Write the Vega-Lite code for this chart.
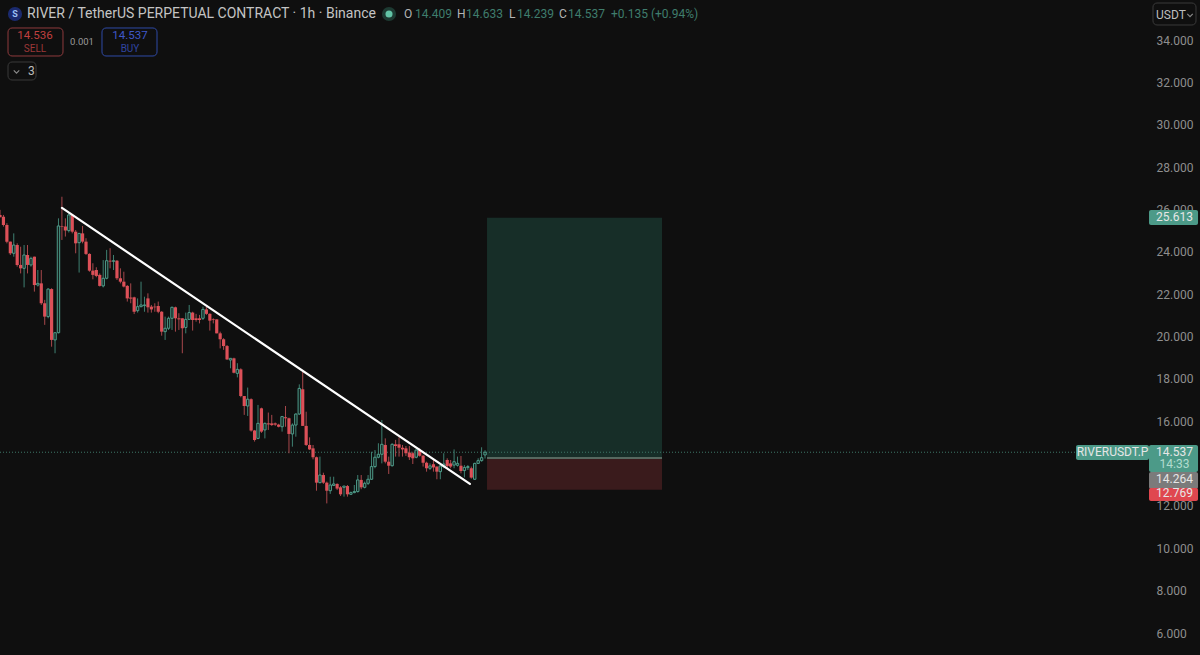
{"$schema":"https://vega.github.io/schema/vega-lite/v6.json","width":1152,"height":655,"autosize":{"type":"none"},"padding":{"left":0,"top":0,"right":48,"bottom":0},"background":"#0f0f0f","view":{"stroke":null},
"config":{"text":{"font":"Roboto"},"axis":{"labelFont":"Roboto"}},
"datasets":{"candles":[
{"t":0,"o":25.74,"c":25.63,"h":25.98,"l":25.63},{"t":1,"o":25.66,"c":25.27,"h":25.74,"l":25.19},{"t":2,"o":25.27,"c":24.48,"h":25.35,"l":24.4},{"t":3,"o":24.48,"c":23.93,"h":24.48,"l":23.85},{"t":4,"o":23.93,"c":24.32,"h":24.87,"l":23.77},{"t":5,"o":24.32,"c":23.38,"h":24.4,"l":23.3},{"t":6,"o":23.38,"c":23.22,"h":24.24,"l":22.98},{"t":7,"o":23.22,"c":23.85,"h":24.32,"l":22.32},{"t":8,"o":23.85,"c":23.38,"h":24.32,"l":22.98},{"t":9,"o":23.38,"c":23.69,"h":23.77,"l":23.3},
{"t":10,"o":23.77,"c":22.43,"h":23.77,"l":22.12},{"t":11,"o":22.43,"c":22.51,"h":23.14,"l":22.36},{"t":12,"o":22.51,"c":21.57,"h":23.14,"l":21.49},{"t":13,"o":21.57,"c":20.94,"h":21.73,"l":20.55},{"t":14,"o":20.94,"c":22.24,"h":22.28,"l":20.86},{"t":15,"o":22.24,"c":19.84,"h":22.28,"l":19.52},{"t":16,"o":19.84,"c":20.18,"h":20.18,"l":19.21},{"t":17,"o":20.18,"c":25.22,"h":25.58,"l":20.15},{"t":18,"o":25.22,"c":25.19,"h":26.6,"l":24.56},{"t":19,"o":25.19,"c":25.0,"h":25.58,"l":24.72},
{"t":20,"o":25.0,"c":25.74,"h":25.82,"l":24.91},{"t":21,"o":25.74,"c":24.95,"h":25.79,"l":24.87},{"t":22,"o":24.95,"c":24.4,"h":25.03,"l":23.93},{"t":23,"o":24.43,"c":24.87,"h":24.87,"l":23.02},{"t":24,"o":24.87,"c":24.48,"h":25.22,"l":24.4},{"t":25,"o":24.48,"c":23.9,"h":24.64,"l":23.85},{"t":26,"o":23.9,"c":23.11,"h":23.93,"l":23.06},{"t":27,"o":23.11,"c":22.91,"h":23.46,"l":22.7},{"t":28,"o":23.14,"c":22.86,"h":23.27,"l":22.8},{"t":29,"o":22.91,"c":22.39,"h":22.98,"l":22.36},
{"t":30,"o":22.39,"c":22.75,"h":23.61,"l":22.32},{"t":31,"o":22.75,"c":23.58,"h":24.09,"l":22.7},{"t":32,"o":23.58,"c":23.54,"h":24.17,"l":23.22},{"t":33,"o":23.55,"c":23.58,"h":23.85,"l":23.14},{"t":34,"o":23.58,"c":22.75,"h":23.61,"l":22.67},{"t":35,"o":22.75,"c":22.59,"h":23.22,"l":22.51},{"t":36,"o":22.59,"c":22.36,"h":23.06,"l":22.32},{"t":37,"o":22.39,"c":21.8,"h":22.43,"l":21.65},{"t":38,"o":21.84,"c":21.79,"h":22.51,"l":21.57},{"t":39,"o":21.85,"c":21.17,"h":21.88,"l":21.06},
{"t":40,"o":21.22,"c":21.41,"h":21.8,"l":21.13},{"t":41,"o":21.41,"c":21.49,"h":22.59,"l":21.38},{"t":42,"o":21.46,"c":21.49,"h":21.88,"l":21.17},{"t":43,"o":21.8,"c":21.38,"h":22.04,"l":21.13},{"t":44,"o":21.41,"c":21.28,"h":21.49,"l":21.13},{"t":45,"o":21.41,"c":21.38,"h":21.57,"l":21.17},{"t":46,"o":21.44,"c":21.17,"h":21.65,"l":21.1},{"t":47,"o":21.17,"c":20.23,"h":21.2,"l":20.04},{"t":48,"o":20.23,"c":20.39,"h":20.94,"l":19.84},{"t":49,"o":20.39,"c":20.86,"h":20.94,"l":20.31},
{"t":50,"o":20.86,"c":21.38,"h":21.41,"l":20.31},{"t":51,"o":21.38,"c":20.86,"h":21.41,"l":20.23},{"t":52,"o":20.86,"c":20.81,"h":21.1,"l":20.31},{"t":53,"o":20.86,"c":20.39,"h":20.86,"l":19.21},{"t":54,"o":20.43,"c":20.81,"h":21.13,"l":20.15},{"t":55,"o":20.81,"c":21.13,"h":21.49,"l":20.78},{"t":56,"o":21.13,"c":20.78,"h":21.17,"l":20.28},{"t":57,"o":20.86,"c":20.78,"h":21.07,"l":20.7},{"t":58,"o":20.86,"c":20.78,"h":21.02,"l":20.62},{"t":59,"o":20.86,"c":21.28,"h":21.41,"l":20.78},
{"t":60,"o":21.28,"c":21.07,"h":21.41,"l":21.02},{"t":61,"o":21.07,"c":20.75,"h":21.1,"l":20.28},{"t":62,"o":20.81,"c":20.78,"h":20.86,"l":20.62},{"t":63,"o":20.81,"c":20.15,"h":20.81,"l":20.15},{"t":64,"o":20.15,"c":19.87,"h":20.23,"l":19.44},{"t":65,"o":19.87,"c":19.55,"h":19.92,"l":19.37},{"t":66,"o":19.55,"c":18.92,"h":19.6,"l":18.89},{"t":67,"o":18.89,"c":18.97,"h":18.97,"l":18.5},{"t":68,"o":18.97,"c":18.29,"h":19.0,"l":18.26},{"t":69,"o":18.26,"c":18.45,"h":18.74,"l":18.07},
{"t":70,"o":18.45,"c":17.19,"h":18.5,"l":17.13},{"t":71,"o":17.19,"c":16.72,"h":17.19,"l":16.3},{"t":72,"o":16.72,"c":17.04,"h":17.59,"l":16.25},{"t":73,"o":17.04,"c":15.56,"h":17.08,"l":15.51},{"t":74,"o":15.56,"c":15.11,"h":15.59,"l":15.04},{"t":75,"o":15.19,"c":15.9,"h":16.77,"l":15.15},{"t":76,"o":16.61,"c":15.51,"h":16.64,"l":15.45},{"t":77,"o":15.59,"c":15.9,"h":15.94,"l":15.19},{"t":78,"o":15.9,"c":15.85,"h":16.41,"l":15.59},{"t":79,"o":15.9,"c":15.82,"h":16.3,"l":15.78},
{"t":80,"o":15.9,"c":15.84,"h":15.94,"l":15.78},{"t":81,"o":15.84,"c":15.74,"h":15.88,"l":15.71},{"t":82,"o":15.74,"c":16.22,"h":16.25,"l":15.51},{"t":83,"o":16.19,"c":16.14,"h":16.72,"l":15.74},{"t":84,"o":16.14,"c":15.4,"h":16.17,"l":14.49},{"t":85,"o":15.4,"c":15.82,"h":15.9,"l":14.8},{"t":86,"o":15.82,"c":16.34,"h":16.37,"l":15.27},{"t":87,"o":16.34,"c":17.55,"h":17.74,"l":16.3},{"t":88,"o":17.51,"c":15.78,"h":18.34,"l":15.78},{"t":89,"o":15.78,"c":14.88,"h":16.45,"l":14.83},
{"t":90,"o":14.88,"c":14.67,"h":15.24,"l":14.64},{"t":91,"o":14.72,"c":14.3,"h":14.88,"l":14.2},{"t":92,"o":14.3,"c":13.1,"h":14.33,"l":12.72},{"t":93,"o":13.1,"c":13.46,"h":14.33,"l":13.07},{"t":94,"o":13.46,"c":13.1,"h":13.57,"l":13.04},{"t":95,"o":13.1,"c":12.72,"h":13.15,"l":12.12},{"t":96,"o":12.72,"c":12.99,"h":13.38,"l":12.57},{"t":97,"o":12.97,"c":13.04,"h":13.38,"l":12.94},{"t":98,"o":13.04,"c":12.82,"h":13.07,"l":12.75},{"t":99,"o":12.88,"c":12.55,"h":12.94,"l":12.47},
{"t":100,"o":12.88,"c":12.94,"h":12.94,"l":12.44},{"t":101,"o":12.94,"c":12.55,"h":12.99,"l":12.44},{"t":102,"o":12.55,"c":12.63,"h":12.68,"l":12.52},{"t":103,"o":12.63,"c":12.68,"h":12.99,"l":12.6},{"t":104,"o":12.68,"c":13.23,"h":13.46,"l":12.63},{"t":105,"o":13.23,"c":12.88,"h":13.46,"l":12.79},{"t":106,"o":12.88,"c":13.07,"h":13.15,"l":12.83},{"t":107,"o":13.07,"c":13.26,"h":13.46,"l":12.99},{"t":108,"o":13.26,"c":13.86,"h":14.56,"l":13.23},{"t":109,"o":13.86,"c":14.3,"h":14.64,"l":13.78},
{"t":110,"o":14.3,"c":14.44,"h":14.96,"l":14.25},{"t":111,"o":14.44,"c":14.91,"h":16.06,"l":14.01},{"t":112,"o":14.88,"c":14.09,"h":15.19,"l":14.01},{"t":113,"o":14.09,"c":13.9,"h":14.33,"l":13.51},{"t":114,"o":13.9,"c":14.91,"h":14.96,"l":13.86},{"t":115,"o":14.91,"c":14.83,"h":15.12,"l":14.33},{"t":116,"o":14.91,"c":14.75,"h":15.24,"l":14.33},{"t":117,"o":14.75,"c":14.67,"h":14.88,"l":14.33},{"t":118,"o":14.72,"c":14.49,"h":14.83,"l":14.36},{"t":119,"o":14.52,"c":14.3,"h":14.83,"l":14.17},
{"t":120,"o":14.49,"c":14.25,"h":14.56,"l":13.98},{"t":121,"o":14.3,"c":14.64,"h":14.67,"l":14.25},{"t":122,"o":14.64,"c":14.37,"h":14.72,"l":14.33},{"t":123,"o":14.37,"c":14.04,"h":14.41,"l":13.86},{"t":124,"o":14.04,"c":13.78,"h":14.09,"l":13.62},{"t":125,"o":13.78,"c":13.89,"h":14.01,"l":13.7},{"t":126,"o":13.97,"c":13.82,"h":14.25,"l":13.62},{"t":127,"o":13.86,"c":13.62,"h":13.86,"l":13.26},{"t":128,"o":13.62,"c":13.89,"h":13.93,"l":13.26},{"t":129,"o":13.86,"c":13.98,"h":14.49,"l":13.78},
{"t":130,"o":14.17,"c":13.89,"h":14.25,"l":13.78},{"t":131,"o":14.01,"c":13.86,"h":14.17,"l":13.78},{"t":132,"o":13.93,"c":14.09,"h":14.67,"l":13.78},{"t":133,"o":13.92,"c":14.01,"h":14.33,"l":13.86},{"t":134,"o":13.9,"c":13.65,"h":14.36,"l":13.54},{"t":135,"o":13.67,"c":13.82,"h":13.93,"l":13.35},{"t":136,"o":13.81,"c":13.86,"h":13.93,"l":13.7},{"t":137,"o":13.78,"c":13.34,"h":13.86,"l":13.29},{"t":138,"o":13.26,"c":14.01,"h":14.04,"l":13.23},{"t":139,"o":14.01,"c":14.14,"h":14.25,"l":13.98},
{"t":140,"o":14.14,"c":14.28,"h":14.77,"l":14.09},{"t":141,"o":14.409,"c":14.537,"h":14.633,"l":14.239}
],
"zones":[{"t":141.57,"t2":192.44,"p":25.613,"p2":14.264,"k":"long"},{"t":141.57,"t2":192.44,"p":14.264,"p2":12.769,"k":"short"}],
"tags":[{"t":334.01,"t2":348.26,"p":25.975,"p2":25.267,"k":"green"},{"t":312.79,"t2":334.01,"p":14.88,"p2":14.172,"k":"green"},{"t":334.01,"t2":348.26,"p":14.88,"p2":13.606,"k":"green"},{"t":334.01,"t2":348.26,"p":13.606,"p2":12.803,"k":"gray"},{"t":334.01,"t2":348.26,"p":12.85,"p2":12.237,"k":"red"}],
"boxes":[{"t":2.33,"t2":18.31,"p":34.567,"p2":33.245,"k":"sell"},{"t":29.65,"t2":45.64,"p":34.567,"p2":33.245,"k":"buy"},{"t":2.33,"t2":10.47,"p":32.962,"p2":32.112,"k":"neutral"},{"t":335.17,"t2":347.67,"p":35.747,"p2":34.709,"k":"neutral"}],
"tagText":[{"s":"25.613","t":341.4,"p":25.644,"k":"white"},{"s":"RIVERUSDT.P","t":323.4,"p":14.55,"k":"white"},{"s":"14.537","t":341.4,"p":14.55,"k":"white"},{"s":"14:33","t":341.4,"p":13.983,"k":"mint"},{"s":"14.264","t":341.4,"p":13.275,"k":"white"},{"s":"12.769","t":341.4,"p":12.614,"k":"white"}],
"legendText":[{"s":"O","t":117.44,"k":"letter"},{"s":"14.409","t":120.64,"k":"value"},{"s":"H","t":132.85,"k":"letter"},{"s":"14.633","t":135.47,"k":"value"},{"s":"L","t":147.97,"k":"letter"},{"s":"14.239","t":150.29,"k":"value"},{"s":"C","t":162.5,"k":"letter"},{"s":"14.537","t":165.12,"k":"value"},{"s":"+0.135 (+0.94%)","t":177.62,"k":"value"}],
"buttonText":[{"s":"14.536","t":10.17,"p":34.212,"k":"sellT"},{"s":"14.537","t":37.79,"p":34.212,"k":"buyT"}],
"smallText":[{"s":"0.001","t":23.84,"p":33.906,"k":"plain"}],
"buttonSub":[{"s":"SELL","t":10.17,"p":33.58,"k":"sellS"},{"s":"BUY","t":37.79,"p":33.58,"k":"buyS"}],
"chev":[{"t":4.8,"p":32.5},{"t":345.93,"p":35.17}],
"trend":[{"t":18.02,"p":26.07},{"t":136.6,"p":13.04}]},
"layer":[
{"data":{"name":"zones"},"mark":{"type":"rect"},"encoding":{"x":{"field":"t","type":"quantitative","scale":{"domain":[0,334.88],"nice":false,"zero":false,"padding":0},"axis":null},"x2":{"field":"t2"},"y":{"field":"p","type":"quantitative","title":null,"scale":{"domain":[4.963,35.889],"nice":false,"zero":false,"padding":0},"axis":{"orient":"right","values":[6,8,10,12,16,18,20,22,24,26,28,30,32,34],"format":".3f","domain":false,"ticks":false,"grid":false,"labelPadding":4,"labelFontSize":12,"labelColor":"#8e8e8e","labelOverlap":false,"labelAlign":"left","labelBaseline":"middle","title":null}},"y2":{"field":"p2"},"fill":{"field":"k","type":"nominal","scale":{"domain":["long","short","green","gray","red"],"range":["#172e28","#3a1b1c","#4c9a88","#7b7b7b","#e0474f"]},"legend":null}}},
{"data":{"values":[{"t":0,"t2":312.79,"p":14.537}]},"mark":{"type":"rule","color":"#3f7868","strokeWidth":1,"strokeDash":[1,2]},"encoding":{"x":{"field":"t","type":"quantitative","axis":null},"x2":{"field":"t2"},"y":{"field":"p","type":"quantitative"}}},
{"data":{"values":[{"t":141.57,"t2":192.44,"p":14.264}]},"mark":{"type":"rule","color":"#56685f","strokeWidth":2},"encoding":{"x":{"field":"t","type":"quantitative","axis":null},"x2":{"field":"t2"},"y":{"field":"p","type":"quantitative"}}},
{"data":{"name":"candles"},"mark":{"type":"rule","strokeWidth":1},"encoding":{"x":{"field":"t","type":"quantitative","axis":null},"y":{"field":"l","type":"quantitative"},"y2":{"field":"h"},"color":{"condition":{"test":"datum.c>=datum.o","value":"#3f8072"},"value":"#a8484c"}}},
{"data":{"name":"candles"},"transform":[{"filter":"datum.c<datum.o"}],"mark":{"type":"bar","size":3.2,"color":"#dc5058"},"encoding":{"x":{"field":"t","type":"quantitative","axis":null},"y":{"field":"o","type":"quantitative"},"y2":{"field":"c"}}},
{"data":{"name":"candles"},"transform":[{"filter":"datum.c>=datum.o"}],"mark":{"type":"bar","size":2.4,"fill":"#12201d","stroke":"#4f9c8a","strokeWidth":1},"encoding":{"x":{"field":"t","type":"quantitative","axis":null},"y":{"field":"o","type":"quantitative"},"y2":{"field":"c"}}},
{"data":{"name":"trend"},"mark":{"type":"line","color":"#ffffff","strokeWidth":2.2,"strokeCap":"round"},"encoding":{"x":{"field":"t","type":"quantitative","axis":null},"y":{"field":"p","type":"quantitative"}}},
{"data":{"name":"tags"},"mark":{"type":"rect","cornerRadius":2},"encoding":{"x":{"field":"t","type":"quantitative","axis":null},"x2":{"field":"t2"},"y":{"field":"p","type":"quantitative"},"y2":{"field":"p2"},"fill":{"field":"k","type":"nominal","legend":null}}},
{"data":{"name":"boxes"},"mark":{"type":"rect","cornerRadius":4,"fillOpacity":0,"fill":"#0f0f0f","strokeWidth":1},"encoding":{"x":{"field":"t","type":"quantitative","axis":null},"x2":{"field":"t2"},"y":{"field":"p","type":"quantitative"},"y2":{"field":"p2"},"stroke":{"field":"k","type":"nominal","scale":{"domain":["sell","buy","neutral"],"range":["#8f3b3d","#2f4aa6","#3a3a3a"]},"legend":null}}},
{"data":{"values":[{"s":"RIVER / TetherUS PERPETUAL CONTRACT · 1h · Binance","t":7.85,"p":35.228}]},"mark":{"type":"text","align":"left","baseline":"middle","fontSize":14,"color":"#c4c4c4"},"encoding":{"x":{"field":"t","type":"quantitative","axis":null},"y":{"field":"p","type":"quantitative"},"text":{"field":"s"}}},
{"data":{"name":"legendText"},"mark":{"type":"text","align":"left","baseline":"middle","fontSize":12},"encoding":{"x":{"field":"t","type":"quantitative","axis":null},"y":{"datum":35.228,"type":"quantitative"},"text":{"field":"s"},"color":{"field":"k","type":"nominal","scale":{"domain":["letter","value","white","mint","sellT","buyT","plain","sellS","buyS"],"range":["#b4b4b4","#3f7d6d","#e6e6e6","#b2dccf","#c0403f","#3f58c8","#9a9a9a","#9c3838","#2f45a0"]},"legend":null}}},
{"data":{"name":"tagText"},"mark":{"type":"text","align":"center","baseline":"middle","fontSize":12},"encoding":{"x":{"field":"t","type":"quantitative","axis":null},"y":{"field":"p","type":"quantitative"},"text":{"field":"s"},"color":{"field":"k","type":"nominal","legend":null}}},
{"data":{"name":"buttonText"},"mark":{"type":"text","align":"center","baseline":"middle","fontSize":11.5},"encoding":{"x":{"field":"t","type":"quantitative","axis":null},"y":{"field":"p","type":"quantitative"},"text":{"field":"s"},"color":{"field":"k","type":"nominal","legend":null}}},
{"data":{"name":"smallText"},"mark":{"type":"text","align":"center","baseline":"middle","fontSize":9.5},"encoding":{"x":{"field":"t","type":"quantitative","axis":null},"y":{"field":"p","type":"quantitative"},"text":{"field":"s"},"color":{"field":"k","type":"nominal","legend":null}}},
{"data":{"name":"buttonSub"},"mark":{"type":"text","align":"center","baseline":"middle","fontSize":10},"encoding":{"x":{"field":"t","type":"quantitative","axis":null},"y":{"field":"p","type":"quantitative"},"text":{"field":"s"},"color":{"field":"k","type":"nominal","legend":null}}},
{"data":{"values":[{"s":"3","t":8.14,"p":32.537},{"s":"USDT","t":336.05,"p":35.181}]},"mark":{"type":"text","align":"left","baseline":"middle","fontSize":12,"color":"#bdbdbd"},"encoding":{"x":{"field":"t","type":"quantitative","axis":null},"y":{"field":"p","type":"quantitative"},"text":{"field":"s"}}},
{"data":{"name":"chev"},"mark":{"type":"point","shape":"M-1,-0.5L0,0.5L1,-0.5","filled":false,"stroke":"#bdbdbd","strokeWidth":1.2,"size":30},"encoding":{"x":{"field":"t","type":"quantitative","axis":null},"y":{"field":"p","type":"quantitative"}}},
{"data":{"values":[{"t":4.36,"p":35.228}]},"mark":{"type":"point","shape":"circle","filled":true,"color":"#1b2a6e","opacity":1,"size":200},"encoding":{"x":{"field":"t","type":"quantitative","axis":null},"y":{"field":"p","type":"quantitative"}}},
{"data":{"values":[{"s":"S","t":4.36,"p":35.228}]},"mark":{"type":"text","align":"center","baseline":"middle","fontSize":9,"fontWeight":"bold","color":"#9cc0f5"},"encoding":{"x":{"field":"t","type":"quantitative","axis":null},"y":{"field":"p","type":"quantitative"},"text":{"field":"s"}}},
{"data":{"values":[{"t":113.08,"p":35.228}]},"mark":{"type":"point","shape":"circle","filled":true,"color":"#1d3a32","opacity":1,"size":200},"encoding":{"x":{"field":"t","type":"quantitative","axis":null},"y":{"field":"p","type":"quantitative"}}},
{"data":{"values":[{"t":113.08,"p":35.228}]},"mark":{"type":"point","shape":"circle","filled":true,"color":"#62c4a6","opacity":1,"size":50},"encoding":{"x":{"field":"t","type":"quantitative","axis":null},"y":{"field":"p","type":"quantitative"}}}
]}
